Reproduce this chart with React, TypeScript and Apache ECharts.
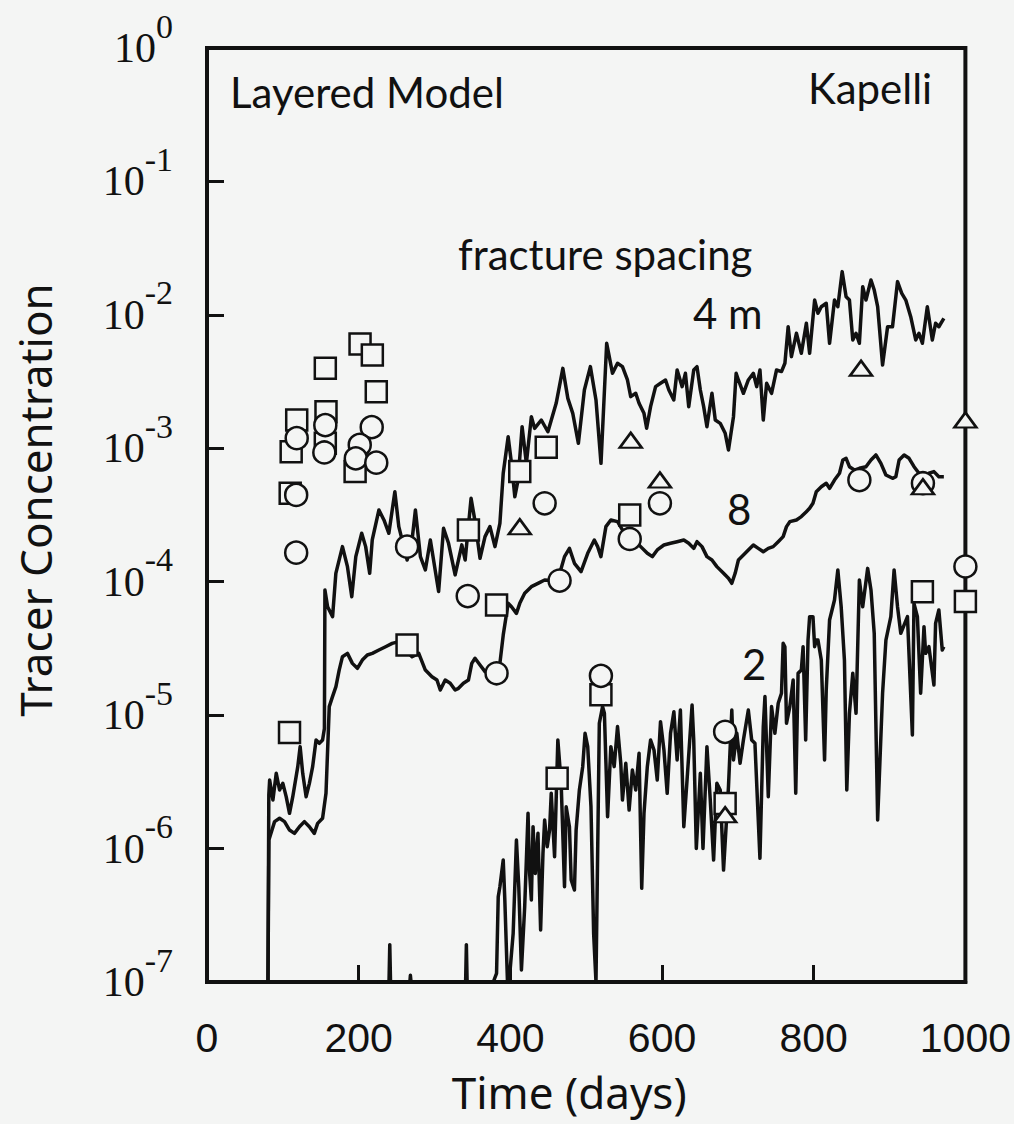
import React, { useEffect, useRef } from "react";
import * as echarts from "echarts";

// ---------- data ----------
const xMin = 0;
const xMax = 1000;
const xInterval = 200;
const yMin = 1e-7;
const yMax = 1;

// curves: [time (days), log10(concentration)]
const spacing4m: [number, number][] = [
  [80.4,-7],[81.5,-5.6],[82.6,-5.486],[86.9,-5.636],[91.3,-5.436],[95.7,-5.561],[100.0,-5.511],[104.4,-5.611],
  [108.8,-5.736],[113.1,-5.611],[119.7,-5.386],[122.8,-5.236],[126.2,-5.436],[130.7,-5.611],[135.0,-5.511],
  [139.3,-5.386],[143.8,-5.186],[148.1,-5.211],[152.4,-5.186],[154.8,-5.1],[155.5,-4.062],[159.0,-4.187],
  [165.6,-4.262],[169.9,-3.937],[178.6,-3.737],[185.2,-3.887],[190.9,-4.112],[196.2,-3.812],[204.0,-3.637],
  [209.2,-3.737],[214.5,-3.937],[217.9,-3.687],[226.7,-3.462],[233.3,-3.537],[239.8,-3.637],[247.7,-3.325],
  [252.9,-3.587],[259.5,-3.737],[263.9,-3.837],[270.4,-3.687],[274.8,-3.462],[281.4,-3.812],[287.9,-3.912],
  [294.5,-3.687],[305.4,-4.074],[311.9,-3.6],[318.5,-3.712],[327.2,-3.949],[336.0,-3.724],[340.4,-3.837],
  [348.2,-3.375],[353.5,-3.55],[360.0,-3.824],[366.6,-3.662],[373.1,-3.587],[379.7,-3.737],[386.2,-3.562],
  [390.6,-3.187],[397.1,-2.913],[401.5,-3.113],[405.9,-3.363],[410.2,-3.237],[415.5,-2.838],[421.1,-3.113],
  [427.7,-2.763],[432.0,-2.851],[440.8,-2.788],[449.5,-2.876],[460.4,-2.663],[469.2,-2.401],[475.8,-2.626],
  [482.3,-2.738],[489.7,-2.963],[497.6,-2.563],[505.5,-2.388],[512.9,-2.638],[519.5,-3.113],[527.0,-2.213],
  [534.7,-2.438],[541.3,-2.363],[547.8,-2.388],[554.4,-2.488],[558.7,-2.613],[565.3,-2.588],[569.7,-2.663],
  [576.2,-2.738],[579.7,-2.85],[584.9,-2.688],[591.5,-2.538],[598.0,-2.513],[604.6,-2.488],[609.0,-2.563],
  [615.5,-2.638],[619.9,-2.413],[626.5,-2.538],[630.8,-2.438],[635.2,-2.688],[641.8,-2.413],[646.1,-2.388],
  [650.5,-2.563],[654.9,-2.688],[659.2,-2.838],[665.8,-2.588],[670.2,-2.788],[676.7,-2.813],[683.3,-2.888],
  [687.6,-3.013],[694.2,-2.763],[697.7,-2.438],[700.7,-2.488],[707.3,-2.588],[713.8,-2.488],[720.4,-2.438],
  [724.8,-2.538],[729.1,-2.413],[733.5,-2.788],[737.9,-2.513],[744.4,-2.588],[751.0,-2.413],[757.5,-2.425],
  [762.0,-2.363],[766.3,-2.089],[770.6,-2.313],[777.2,-2.138],[783.7,-2.288],[790.3,-2.063],[794.6,-2.288],
  [801.2,-1.889],[805.6,-1.988],[810.0,-1.939],[816.5,-1.913],[820.9,-2.213],[827.4,-1.889],[831.8,-1.939],
  [837.5,-1.676],[842.7,-1.864],[847.1,-1.889],[851.5,-2.188],[855.8,-2.138],[860.2,-2.213],[864.6,-1.789],
  [868.9,-1.889],[875.5,-1.739],[879.8,-1.814],[884.3,-1.939],[890.8,-2.376],[897.4,-2.089],[903.9,-2.089],
  [910.5,-1.751],[916.1,-1.839],[921.4,-1.889],[927.9,-2.014],[934.5,-2.188],[938.8,-2.138],[943.3,-2.213],
  [949.8,-1.939],[956.4,-2.188],[960.7,-2.063],[965.0,-2.089],[971.6,-2.026]
];

const spacing8m: [number, number][] = [
  [80.4,-7],[81.6,-5.936],[89.1,-5.798],[95.7,-5.773],[102.2,-5.798],[108.8,-5.861],[115.3,-5.886],
  [121.9,-5.836],[128.4,-5.798],[135.0,-5.836],[141.5,-5.886],[145.9,-5.811],[152.4,-5.773],[156.9,-5.586],
  [161.2,-4.936],[165.5,-4.861],[170.0,-4.786],[174.3,-4.662],[178.6,-4.562],[185.2,-4.537],[191.7,-4.612],
  [198.3,-4.649],[204.8,-4.587],[211.4,-4.549],[218.0,-4.537],[226.7,-4.512],[235.5,-4.487],[244.2,-4.462],
  [252.9,-4.449],[261.7,-4.512],[270.4,-4.562],[279.2,-4.537],[287.9,-4.662],[296.6,-4.712],[303.2,-4.737],
  [307.6,-4.812],[314.1,-4.737],[320.7,-4.761],[327.2,-4.812],[331.6,-4.799],[338.1,-4.761],[344.7,-4.737],
  [349.1,-4.612],[353.4,-4.574],[360.0,-4.624],[366.6,-4.674],[375.3,-4.686],[381.8,-4.686],[386.2,-4.612],
  [390.6,-4.4],[397.1,-4.162],[401.5,-4.187],[408.0,-4.237],[412.4,-4.162],[418.9,-4.087],[427.7,-4.037],
  [436.4,-4.012],[445.2,-3.987],[453.9,-3.99],[462.6,-3.987],[471.4,-3.812],[477.9,-3.75],[484.5,-3.862],
  [493.2,-3.924],[502.0,-3.787],[510.7,-3.687],[515.1,-3.737],[519.4,-3.812],[526.0,-3.587],[532.5,-3.537],
  [541.3,-3.55],[547.8,-3.612],[554.4,-3.637],[563.1,-3.687],[571.8,-3.737],[580.6,-3.787],[587.2,-3.812],
  [593.7,-3.762],[602.5,-3.725],[611.2,-3.712],[619.9,-3.7],[628.7,-3.687],[635.2,-3.712],[641.8,-3.75],
  [646.1,-3.7],[652.7,-3.737],[659.2,-3.812],[665.8,-3.837],[672.3,-3.887],[681.1,-3.937],[687.6,-3.974],
  [692.0,-4.012],[696.4,-3.937],[700.7,-3.837],[707.3,-3.8],[713.8,-3.762],[720.4,-3.725],[726.9,-3.75],
  [733.5,-3.775],[740.1,-3.75],[746.6,-3.737],[753.2,-3.7],[759.7,-3.662],[764.1,-3.587],[768.5,-3.55],
  [777.2,-3.537],[783.7,-3.512],[790.3,-3.475],[794.6,-3.45],[799.0,-3.412],[803.4,-3.325],[810.0,-3.288],
  [816.5,-3.262],[820.9,-3.3],[827.4,-3.238],[834.0,-3.187],[838.4,-3.088],[842.7,-3.075],[847.1,-3.138],
  [853.6,-3.163],[860.2,-3.15],[868.9,-3.138],[875.5,-3.088],[882.0,-3.05],[888.6,-3.113],[895.2,-3.2],
  [903.9,-3.225],[908.3,-3.213],[912.6,-3.088],[919.2,-3.05],[925.7,-3.075],[932.3,-3.138],[938.8,-3.187],
  [945.4,-3.225],[951.9,-3.187],[958.5,-3.175],[965.0,-3.213],[971.6,-3.213]
];

const spacing2m: [number, number][] = [
  [225,-7],[240.0,-7],[241.0,-6.72],[242.0,-7],[267.5,-7],[268.2,-6.95],[269,-7],[341.0,-7],[342.0,-6.72],
  [343.0,-7],[377.5,-7],[381.8,-6.935],[384.0,-6.361],[386.2,-6.286],[390.6,-6.086],[392.7,-6.385],[396.2,-7],
  [399.3,-6.935],[403.7,-6.635],[408.0,-5.936],[411.1,-6.286],[414.6,-6.91],[418.9,-6.436],[423.3,-5.736],
  [425.4,-6.186],[427.7,-6.385],[429.9,-5.836],[432.9,-6.186],[436.4,-5.886],[439.9,-6.61],[443.0,-6.036],
  [445.2,-5.786],[448.6,-5.986],[451.7,-5.861],[453.9,-5.586],[458.3,-6.061],[462.6,-5.186],[467.0,-5.511],
  [471.4,-6.286],[473.6,-5.686],[477.9,-5.836],[480.2,-6.236],[484.5,-6.311],[486.7,-5.861],[491.0,-5.561],
  [495.4,-5.386],[498.5,-5.136],[502.0,-5.236],[506.3,-5.686],[509.8,-6.635],[512.9,-7],[517.3,-5.061],
  [521.6,-4.936],[524.0,-4.986],[528.2,-5.761],[532.5,-5.236],[536.9,-5.386],[541.3,-5.086],[545.6,-5.361],
  [547.8,-5.636],[552.2,-5.361],[556.6,-5.711],[560.9,-5.411],[565.3,-5.561],[569.7,-5.286],[573.2,-6.298],
  [576.2,-5.736],[580.6,-5.386],[584.9,-5.186],[589.4,-5.261],[593.7,-5.486],[598.0,-5.049],[602.5,-5.261],
  [606.8,-5.586],[611.2,-5.136],[615.6,-4.974],[619.9,-5.336],[624.2,-4.962],[628.7,-5.836],[633.0,-5.486],
  [639.6,-4.924],[641.8,-5.186],[645.2,-5.999],[650.5,-5.436],[654.0,-5.999],[659.2,-5.236],[663.6,-5.636],
  [668.0,-6.086],[672.3,-5.511],[676.7,-5.561],[681.1,-6.161],[687.6,-5.536],[692.0,-4.962],[694.2,-5.336],
  [698.6,-5.136],[702.9,-5.361],[707.3,-5.186],[713.8,-4.962],[718.2,-5.186],[722.5,-5.211],[729.1,-6.073],
  [733.5,-5.086],[735.7,-4.861],[740.1,-5.611],[744.4,-4.936],[748.8,-5.136],[753.2,-4.911],[757.5,-4.836],
  [759.7,-4.462],[762.0,-4.487],[764.1,-5.061],[768.5,-4.936],[772.9,-4.737],[776.3,-5.586],[779.4,-4.686],
  [783.7,-4.661],[786.0,-4.487],[789.4,-5.186],[792.5,-4.437],[794.6,-4.262],[799.0,-4.262],[801.2,-4.487],
  [803.4,-4.437],[805.6,-4.437],[810.0,-4.587],[814.3,-5.336],[816.5,-4.812],[820.9,-4.287],[827.4,-4.137],
  [831.8,-3.912],[836.2,-4.187],[840.5,-4.587],[843.6,-5.561],[847.1,-4.986],[851.5,-4.686],[855.8,-4.986],
  [860.2,-3.987],[864.6,-4.187],[871.1,-3.9],[875.5,-4.062],[879.8,-4.387],[884.3,-5.786],[890.8,-4.836],
  [895.2,-4.437],[901.7,-4.262],[906.0,-3.912],[910.5,-4.187],[914.8,-4.387],[923.6,-4.262],[930.1,-5.149],
  [932.2,-4.162],[936.7,-4.262],[941.0,-4.836],[945.4,-4.337],[947.6,-4.537],[951.9,-4.487],[958.5,-4.774],
  [960.7,-4.312],[965.0,-4.212],[969.5,-4.512],[971.6,-4.487]
];

// observed data markers: [time (days), concentration]
const squares: [number, number][] = [
  [201.8,6.05e-3],[218.0,5.0e-3],[156.0,3.98e-3],[223.2,2.65e-3],[118.3,1.63e-3],[156.9,1.88e-3],
  [111.0,9.4e-4],[156.0,1.09e-3],[195.3,6.7e-4],[109.7,4.6e-4],[344.7,2.44e-4],[412.4,6.7e-4],
  [447.3,1.02e-3],[381.8,6.7e-5],[263.8,3.36e-5],[557.4,3.16e-4],[1000,7.1e-5],[943.3,8.4e-5],
  [108.8,7.4e-6],[461.7,3.36e-6],[519.4,1.42e-5],[683.2,2.18e-6]
];
const circles: [number, number][] = [
  [156.0,1.49e-3],[217.2,1.44e-3],[118.3,1.19e-3],[154.7,9.3e-4],[201.4,1.06e-3],[196.2,8.4e-4],
  [223.2,7.8e-4],[117.6,4.47e-4],[117.6,1.65e-4],[263.8,1.83e-4],[445.2,3.87e-4],[343.8,7.8e-5],
  [464.9,1.02e-4],[381.8,2.06e-5],[597.2,3.87e-4],[557.4,2.09e-4],[860.2,5.78e-4],[944.0,5.47e-4],
  [1000,1.3e-4],[519.4,1.97e-5],[683.2,7.5e-6]
];
const triangles: [number, number][] = [
  [412.4,2.58e-4],[558.7,1.15e-3],[597.2,5.78e-4],[862.4,3.98e-3],[944.0,5.15e-4],[1000,1.63e-3],[683.2,1.79e-6]
];

const annotations = [
  { text: "Layered Model", x: 230, y: 92 },
  { text: "Kapelli", x: 808, y: 88 },
  { text: "fracture spacing", x: 458, y: 254 },
  { text: "4 m", x: 693, y: 313 },
  { text: "8", x: 727, y: 509 },
  { text: "2", x: 742, y: 664 }
];

// ---------- styles ----------
const BG = "#f4f5f4";
const INK = "#111111";
const NARROW = "'Liberation Sans', Arial, sans-serif";
const TITLE = "'Noto Sans', sans-serif";
const SERIF = "'Liberation Serif', 'DejaVu Serif', serif";
const SANS = "Lato, 'Noto Sans', sans-serif";

const toConc = (arr: [number, number][]) => arr.map(([t, e]) => [t, Math.pow(10, e)]);

export default function App() {
  const ref = useRef<HTMLDivElement>(null);
  useEffect(() => {
    if (!ref.current) return;
    const chart = echarts.init(ref.current, undefined, { renderer: "svg" });
    const lineSeries = (name: string, data: [number, number][]) => ({
      name,
      type: "line",
      data: toConc(data),
      showSymbol: false,
      symbol: "none",
      lineStyle: { color: INK, width: 3.5, join: "round" },
      z: 2,
      clip: true
    });
    const markerSeries = (name: string, data: [number, number][], symbol: string, size: any) => ({
      name,
      type: "scatter",
      data,
      symbol,
      symbolSize: size,
      itemStyle: { color: BG, borderColor: INK, borderWidth: 2.5, opacity: 1 },
      z: 5,
      clip: false
    });
    chart.setOption({
      animation: false,
      backgroundColor: BG,
      grid: {
        left: 207,
        top: 48,
        width: 763,
        height: 934,
        show: true,
        borderColor: INK,
        borderWidth: 4,
        backgroundColor: "transparent"
      },
      xAxis: {
        type: "value",
        min: xMin,
        max: xMax,
        interval: xInterval,
        name: "Time (days)",
        nameLocation: "middle",
        nameGap: 88,
        nameTextStyle: { fontFamily: TITLE, fontSize: 44, color: INK, padding: [0, 34, 0, 0] },
        axisLine: { show: true, lineStyle: { color: INK, width: 4 } },
        axisTick: { show: true, inside: true, length: 17, lineStyle: { color: INK, width: 3 } },
        axisLabel: {
          fontFamily: NARROW,
          fontSize: 41,
          color: INK,
          margin: 35,
          formatter: (v: number) => String(v)
        },
        splitLine: { show: false }
      },
      yAxis: {
        type: "log",
        logBase: 10,
        min: yMin,
        max: yMax,
        name: "Tracer Concentration",
        nameLocation: "middle",
        nameGap: 150,
        nameRotate: 90,
        nameTextStyle: { fontFamily: TITLE, fontSize: 44, color: INK, padding: [0, 0, 0, 30] },
        axisLine: { show: true, lineStyle: { color: INK, width: 4 } },
        axisTick: { show: true, inside: true, length: 17, lineStyle: { color: INK, width: 3 } },
        axisLabel: {
          margin: 34,
          formatter: (v: number) => `{b|10}{e|${Math.round(Math.log10(v))}}`,
          rich: {
            b: { fontFamily: SERIF, fontSize: 42, lineHeight: 42, color: INK, verticalAlign: "middle" },
            e: { fontFamily: SERIF, fontSize: 34, lineHeight: 34, color: INK, verticalAlign: "middle", padding: [0, 0, 44, 0] }
          }
        },
        splitLine: { show: false }
      },
      graphic: annotations.map((a) => ({
        type: "text",
        x: a.x,
        y: a.y,
        z: 10,
        style: {
          text: a.text,
          fill: INK,
          font: `42px ${SANS}`,
          textAlign: "left",
          textVerticalAlign: "middle"
        }
      })),
      series: [
        lineSeries("4 m", spacing4m),
        lineSeries("8 m", spacing8m),
        lineSeries("2 m", spacing2m),
        markerSeries("squares", squares, "rect", 21),
        markerSeries("circles", circles, "circle", 22),
        markerSeries("triangles", triangles, "triangle", [22, 15])
      ]
    });
    return () => chart.dispose();
  }, []);
  return (
    <div
      ref={ref}
      style={{ position: "fixed", left: 0, top: 0, width: 1014, height: 1124, background: BG }}
    />
  );
}
